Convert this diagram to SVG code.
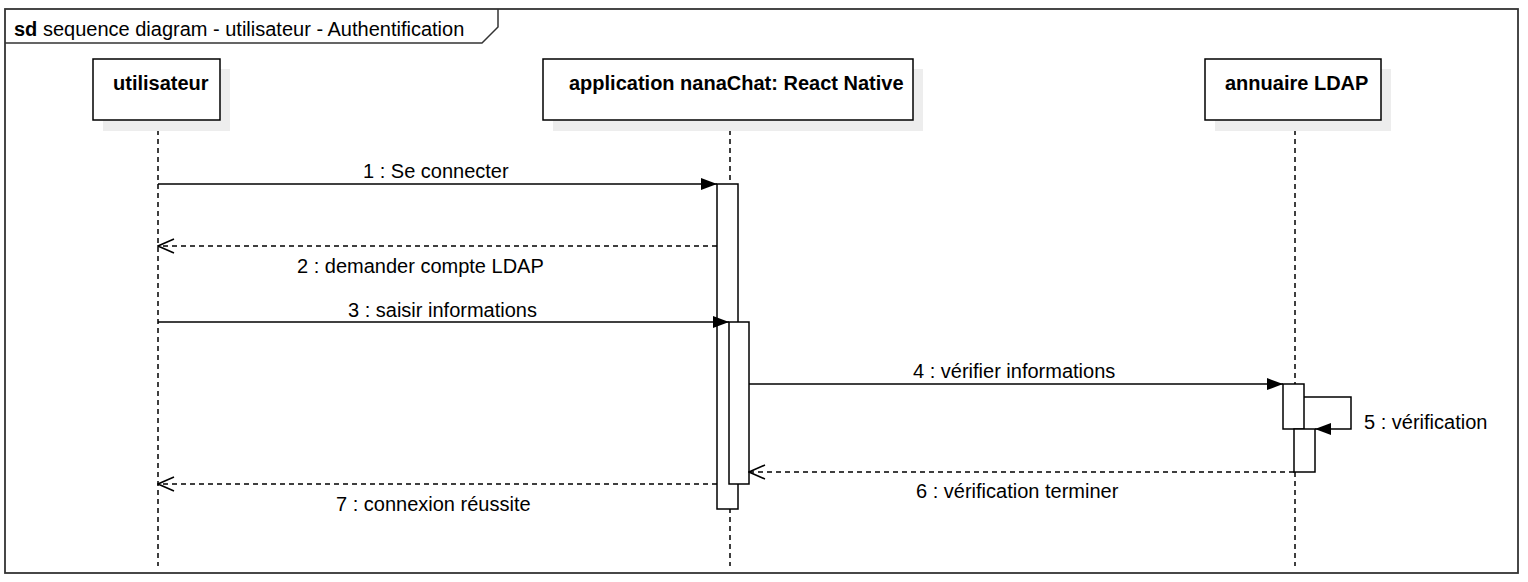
<svg xmlns="http://www.w3.org/2000/svg" width="1528" height="582" viewBox="0 0 1528 582">
<style>
text{font-family:"Liberation Sans",Arial,sans-serif;font-size:20px;fill:#000}
.b{font-weight:bold}
.head{fill:#fff;stroke:#000;stroke-width:1.5}
.shadow{fill:#ededed}
.life{stroke:#000;stroke-width:1.5;stroke-dasharray:5,4;fill:none}
.act{fill:#fff;stroke:#000;stroke-width:1.5}
.msg{stroke:#000;stroke-width:1.5;fill:none}
.ret{stroke:#000;stroke-width:1.5;fill:none;stroke-dasharray:5,4}
</style>
<defs>
<marker id="filled" viewBox="0 0 16 12" refX="16" refY="6" markerWidth="16" markerHeight="12" markerUnits="userSpaceOnUse" orient="auto">
<path d="M0,0 L16,6 L0,12 Z" fill="#000"/>
</marker>
<marker id="open" viewBox="0 0 18 16" refX="17" refY="8" markerWidth="18" markerHeight="16" markerUnits="userSpaceOnUse" orient="auto">
<path d="M1,1 L17,8 L1,15" fill="none" stroke="#000" stroke-width="1.5"/>
</marker>
</defs>
<rect width="1528" height="582" fill="#fff"/>
<g id="frame">
<rect x="5" y="9" width="1513" height="564" fill="none" stroke="#333" stroke-width="1.8"/>
<path d="M5,43 L482,43 L498,27 L498,9" fill="none" stroke="#333" stroke-width="1.5"/>
<text x="14" y="36"><tspan class="b">sd</tspan> sequence diagram - utilisateur - Authentification</text>
</g>
<g id="lifelines">
<line class="life" x1="158" y1="121" x2="158" y2="566"/>
<line class="life" x1="730" y1="121" x2="730" y2="566"/>
<line class="life" x1="1295" y1="121" x2="1295" y2="566"/>
</g>
<g id="utilisateur">
<rect class="shadow" x="103" y="69" width="127" height="62"/>
<rect class="head" x="93" y="59" width="127" height="61"/>
<text class="b" x="113" y="90">utilisateur</text>
</g>
<g id="application">
<rect class="shadow" x="553" y="69" width="370" height="62"/>
<rect class="head" x="543" y="59" width="370" height="61"/>
<text class="b" x="569" y="90">application nanaChat: React Native</text>
</g>
<g id="ldap">
<rect class="shadow" x="1215" y="69" width="176" height="62"/>
<rect class="head" x="1205" y="59" width="176" height="61"/>
<text class="b" x="1225" y="90">annuaire LDAP</text>
</g>
<g id="activations">
<rect class="act" x="717" y="184" width="21" height="325"/>
<rect class="act" x="729" y="322" width="20" height="162"/>
<rect class="act" x="1283" y="384" width="21" height="45"/>
<rect class="act" x="1294" y="429" width="21" height="43"/>
</g>
<g id="connectors">
<line class="msg" x1="158" y1="184" x2="717" y2="184" marker-end="url(#filled)"/>
<text x="363" y="178">1 : Se connecter</text>
<line class="ret" x1="717" y1="246" x2="158" y2="246" marker-end="url(#open)"/>
<text x="297" y="273">2 : demander compte LDAP</text>
<line class="msg" x1="158" y1="322" x2="729" y2="322" marker-end="url(#filled)"/>
<text x="348" y="317">3 : saisir informations</text>
<line class="msg" x1="749" y1="384" x2="1283" y2="384" marker-end="url(#filled)"/>
<text x="913" y="378">4 : vérifier informations</text>
<path class="msg" d="M1304,397 L1351,397 L1351,429 L1315,429" marker-end="url(#filled)"/>
<text x="1364" y="429">5 : vérification</text>
<line class="ret" x1="1294" y1="472" x2="749" y2="472" marker-end="url(#open)"/>
<text x="916" y="498">6 : vérification terminer</text>
<line class="ret" x1="717" y1="484" x2="158" y2="484" marker-end="url(#open)"/>
<text x="336" y="511">7 : connexion réussite</text>
</g>
</svg>
